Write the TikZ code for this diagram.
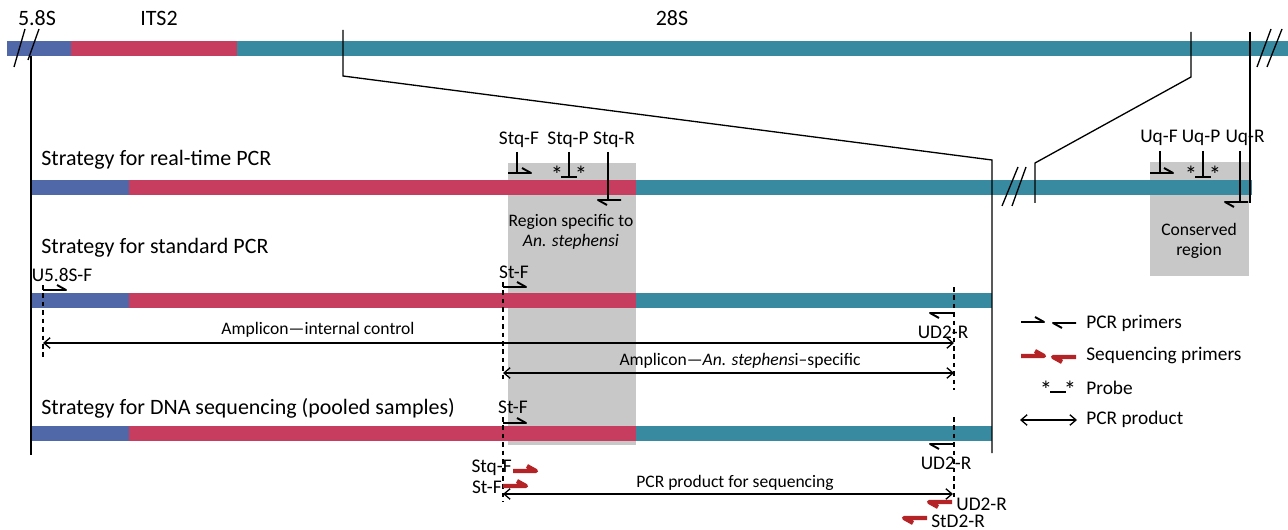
\documentclass[tikz,border=0pt]{standalone}
\usepackage{fontspec}
\setmainfont{Carlito}
\usetikzlibrary{arrows.meta}

\definecolor{rdnablue}{RGB}{80,103,168}
\definecolor{rdnared}{RGB}{199,61,96}
\definecolor{rdnateal}{RGB}{55,138,160}
\definecolor{boxgray}{RGB}{200,200,200}
\definecolor{seqred}{RGB}{180,35,38}

\tikzset{
  thinline/.style={line width=0.75pt},
  dashline/.style={line width=0.65pt, dash pattern=on 2.6pt off 2.2pt},
  pcrprimer/.style={line width=1.1pt, draw=black, line join=round},
  seqprimer/.style={line width=2.4pt, draw=seqred, line join=round},
  big/.style={font=\fontsize{12.5}{15}\selectfont, inner sep=0pt},
  plbl/.style={font=\fontsize{11}{13}\selectfont, inner sep=0pt},
  note/.style={font=\fontsize{10}{11.5}\selectfont, inner sep=0pt},
  starlbl/.style={font=\fontsize{14}{16}\selectfont, inner sep=0pt},
  pics/fwdprimer/.style={code={\draw[pic actions] (0,0) -- (23,0) -- (14,-5);}},
  pics/revprimer/.style={code={\draw[pic actions] (0,0) -- (-23,0) -- (-14,5);}},
  pics/probe/.style={code={
    \draw[line width=1.1pt] (-8,0) -- (8,0);
    \node[starlbl] (-sl) at (-12,-2) {*};
    \node[starlbl] (-sr) at (12,-2) {*};
  }},
}

\begin{document}
\begin{tikzpicture}[x=0.02cm, y=-0.02cm, >={Straight Barb[length=3.5pt,width=6pt]}]
\useasboundingbox (0,0) rectangle (1288,530);

% shaded regions
\fill[boxgray] (508,163) rectangle (636,445);
\fill[boxgray] (1150,162) rectangle (1249,276);

% top rDNA bar
\fill[rdnablue] (7,41) rectangle (71,56);
\fill[rdnared] (71,41) rectangle (237,56);
\fill[rdnateal] (237,41) rectangle (1288,56);
\node[big] (lbl58S) at (37,18) {5.8S};
\node[big] (lblITS) at (159,18) {ITS2};
\node[big] (lbl28S) at (672,18) {28S};

% strategy bars
\foreach \yt/\xe in {180/1252, 293/992, 426/992} {
  \fill[rdnablue] (31,\yt) rectangle (129,\yt+15);
  \fill[rdnared] (129,\yt) rectangle (636,\yt+15);
  \fill[rdnateal] (636,\yt) rectangle (\xe,\yt+15);
}

% break marks
\draw[thinline] (14,67) -- (25,29) (28,60) -- (39,29);
\draw[thinline] (1257,67) -- (1271,29) (1267,67) -- (1282,29);
\draw[thinline] (1002,206) -- (1018,167) (1012,206) -- (1026,167);

% zoom lines
\draw[thinline] (31,56) -- (31,455);
\draw[thinline] (343,30) -- (343,76) -- (992,160) -- (992,453);
\draw[thinline] (1191,32) -- (1191,77) -- (1035,163) -- (1035,203);
\draw[thinline] (1250,32) -- (1250,203);

% real-time PCR
\node[big, anchor=west] (rtpcr) at (41,160) {Strategy for real-time PCR};
\node[plbl] (stqF) at (519,140) {Stq-F};
\node[plbl] (stqP) at (568,140) {Stq-P};
\node[plbl] (stqR) at (614,140) {Stq-R};
\draw[thinline] (517,152) -- (517,173);
\draw[thinline] (569,152) -- (569,177);
\draw[thinline] (608,152) -- (608,200);
\pic[pcrprimer] (stqFp) at (508,173) {fwdprimer};
\pic (stqPp) at (569,177) {probe};
\pic[pcrprimer] (stqRp) at (621,200) {revprimer};
\node[note, align=center] (regionspec) at (571,232) {Region specific to\\\textit{An. stephensi}};

\node[plbl] (uqF) at (1159,138) {Uq-F};
\node[plbl] (uqP) at (1201,138) {Uq-P};
\node[plbl] (uqR) at (1245,138) {Uq-R};
\draw[thinline] (1160,151) -- (1160,173);
\draw[thinline] (1203,151) -- (1203,177);
\draw[thinline] (1240,151) -- (1240,202);
\pic[pcrprimer] (uqFp) at (1150,173) {fwdprimer};
\pic (uqPp) at (1203,177) {probe};
\pic[pcrprimer] (uqRp) at (1248,202) {revprimer};
\node[note, align=center] (conserved) at (1199,241) {Conserved\\region};

% standard PCR
\node[big, anchor=west] (stdpcr) at (41,248) {Strategy for standard PCR};
\node[plbl] (u58sF) at (62,275) {U5.8S-F};
\node[plbl] (stF) at (514,272) {St-F};
\node[plbl] (ud2R) at (943,332) {UD2-R};
\pic[pcrprimer] (u58sFp) at (43,290) {fwdprimer};
\pic[pcrprimer] (stFp) at (503,287) {fwdprimer};
\pic[pcrprimer] (ud2Rp) at (953,313) {revprimer};
\coordinate (ctlL) at (43,343);
\coordinate (ctlR) at (954,343);
\coordinate (stphL) at (503,373);
\coordinate (stphR) at (954,373);
\draw[dashline] (43,285) -- (43,358);
\draw[dashline] (503,282) -- (503,383);
\draw[dashline] (954,287) -- (954,390);
\draw[thinline, <->] (ctlL) -- (ctlR);
\draw[thinline, <->] (stphL) -- (stphR);
\node[note] (ampctrl) at (318,330) {Amplicon—internal control};
\node[note] (ampsteph) at (740,361) {Amplicon—\textit{An. stephens}i–specific};

% DNA sequencing
\node[big, anchor=west] (seqpcr) at (41,408) {Strategy for DNA sequencing (pooled samples)};
\node[plbl] (stF2) at (513,407) {St-F};
\node[plbl] (ud2R2) at (946,463) {UD2-R};
\pic[pcrprimer] (stF2p) at (503,423) {fwdprimer};
\pic[pcrprimer] (ud2R2p) at (953,444) {revprimer};
\draw[dashline] (503,417) -- (503,502);
\draw[dashline] (954,417) -- (954,500);
\node[plbl, anchor=east] (stqFs) at (512,468) {Stq-F};
\node[plbl, anchor=east] (stFs) at (502,487) {St-F};
\pic[seqprimer] (stqFsp) at (513,471) {fwdprimer};
\pic[seqprimer] (stFsp) at (503,486) {fwdprimer};
\coordinate (prodL) at (503,494);
\coordinate (prodR) at (953,494);
\draw[thinline, <->] (prodL) -- (prodR);
\node[note] (seqprod) at (735,483) {PCR product for sequencing};
\pic[seqprimer] (ud2Rsp) at (952,502) {revprimer};
\pic[seqprimer] (stD2Rsp) at (927,518) {revprimer};
\node[plbl, anchor=west] (ud2Rs) at (956,504) {UD2-R};
\node[plbl, anchor=west] (stD2Rs) at (931,521) {StD2-R};

% legend
\pic[pcrprimer] (legF) at (1021,322) {fwdprimer};
\pic[pcrprimer] (legR) at (1076,323) {revprimer};
\pic[seqprimer] (legSF) at (1021,356) {fwdprimer};
\pic[seqprimer] (legSR) at (1076,357) {revprimer};
\pic (legP) at (1058,392) {probe};
\coordinate (legAL) at (1020,420);
\coordinate (legAR) at (1077,420);
\draw[thinline, <->] (legAL) -- (legAR);
\node[plbl, anchor=west] (legpcr) at (1086,323) {PCR primers};
\node[plbl, anchor=west] (legseq) at (1086,356) {Sequencing primers};
\node[plbl, anchor=west] (legprobe) at (1086,388) {Probe};
\node[plbl, anchor=west] (legprod) at (1086,419) {PCR product};
\end{tikzpicture}
\end{document}
